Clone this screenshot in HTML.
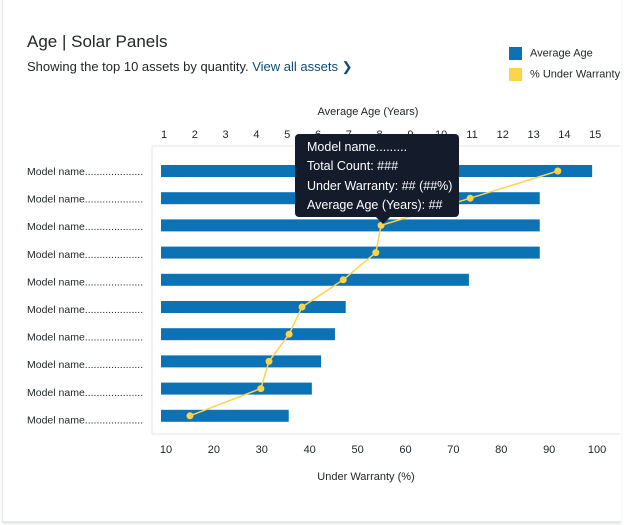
<!DOCTYPE html>
<html><head><meta charset="utf-8"><style>
body{margin:0;width:631px;height:525px;background:#fff;font-family:"Liberation Sans",sans-serif;overflow:hidden}
.card{position:absolute;left:2px;top:-2px;width:618px;height:523px;border:1px solid #e3e6ea;border-top:none;border-right:none;box-shadow:0 2px 2px #e3e6ea}
#title{position:absolute;left:27px;top:32px;font-size:17px;color:#21272a}
#sub{position:absolute;left:27px;top:59px;font-size:13px;color:#21272a}
#sub a{color:#0f4c75;text-decoration:none}
.leg{position:absolute;left:509px;font-size:11px;color:#21272a}
.sw{display:inline-block;width:13px;height:13px;vertical-align:middle;margin-right:8px}
#tip{position:absolute;left:295px;top:134px;width:152px;height:79px;background:#141b2b;border-radius:4px;color:#fff;font-size:12.5px;line-height:19.3px;padding:4px 0 0 12px}
#tip:after{content:"";position:absolute;left:81px;bottom:-7px;border:7px solid transparent;border-bottom:none;border-top-color:#141b2b}
</style></head><body>
<div class="card"></div>
<div id="title">Age | Solar Panels</div>
<div id="sub">Showing the top 10 assets by quantity. <a href="#">View all assets ❯</a></div>
<div class="leg" style="top:47px"><span class="sw" style="background:#0b72b5"></span>Average Age</div>
<div class="leg" style="top:68px"><span class="sw" style="background:#fdd449"></span>% Under Warranty</div>
<svg id="chart" width="631" height="525" style="position:absolute;left:0;top:0"></svg>
<div id="tip">Model name.........<br>Total Count: ###<br>Under Warranty: ## (##%)<br>Average Age (Years): ##</div>
<script>
const categories=["Model name","Model name","Model name","Model name","Model name","Model name","Model name","Model name","Model name","Model name"];
const avgAge=[14.9,13.2,13.2,13.2,10.9,6.9,6.55,6.1,5.8,5.05];
const warranty=[91.8,73.5,54.9,53.8,47,38.4,35.7,31.5,29.8,15];
const ageTicks=[1,2,3,4,5,6,7,8,9,10,11,12,13,14,15];
const pctTicks=[10,20,30,40,50,60,70,80,90,100];
const NS="http://www.w3.org/2000/svg",svg=document.getElementById('chart');
const xAge=a=>164+(a-1)*30.8, xPct=p=>166+(p-10)*4.79, yCat=i=>171+i*27.2;
function mk(t,at,txt){const e=document.createElementNS(NS,t);for(const k in at)e.setAttribute(k,at[k]);if(txt!=null)e.textContent=txt;svg.appendChild(e);return e;}
let e=mk('path',{d:'M152 434V146H620M152 434H620',fill:'none',stroke:'#e3e6ea'});

e=mk('text',{x:368,y:115,'font-size':11,'text-anchor':'middle',fill:'#21272a'},'Average Age (Years)');

e=mk('text',{x:366,y:480,'font-size':11,'text-anchor':'middle',fill:'#21272a'},'Under Warranty (%)');

ageTicks.forEach(t=>{const e=mk('text',{x:xAge(t),y:138,'font-size':11,'text-anchor':'middle',fill:'#21272a'},t);
});
pctTicks.forEach(t=>{const e=mk('text',{x:xPct(t),y:453,'font-size':11,'text-anchor':'middle',fill:'#21272a'},t);
});
categories.forEach((c,i)=>{
 const l=mk('text',{x:27,y:175+i*27.6,'font-size':10.5,fill:'#21272a'},c+'....................');
 
 const b=mk('rect',{x:161,y:yCat(i)-6,width:xAge(avgAge[i])-161,height:12,fill:'#0b72b5'});
 
});
const pts=warranty.map((w,i)=>xPct(w)+','+yCat(i)).join(' ');
e=mk('polyline',{points:pts,fill:'none',stroke:'#fdd449','stroke-width':1.5});

warranty.forEach((w,i)=>{const d=mk('circle',{cx:xPct(w),cy:yCat(i),r:3.5,fill:'#fdd449'});
});
</script>
</body></html>
